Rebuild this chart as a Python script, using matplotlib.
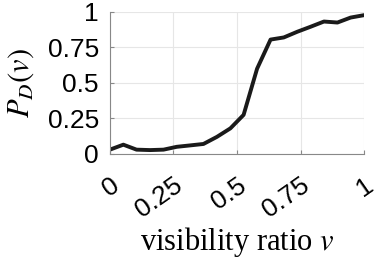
import matplotlib
matplotlib.use("Agg")
import matplotlib.pyplot as plt

# detection probability vs visibility ratio
vis_ratio = [0.0, 0.053, 0.105, 0.158, 0.211, 0.263, 0.316, 0.368, 0.421, 0.474,
             0.526, 0.579, 0.632, 0.684, 0.737, 0.789, 0.842, 0.895, 0.947, 1.0]
p_detect = [0.03, 0.065, 0.03, 0.027, 0.03, 0.05, 0.06, 0.07, 0.12, 0.18,
            0.275, 0.60, 0.805, 0.82, 0.86, 0.895, 0.932, 0.925, 0.96, 0.977]

xticks = [0, 0.25, 0.5, 0.75, 1]
xtick_labels = ["0", "0.25", "0.5", "0.75", "1"]
yticks = [0, 0.25, 0.5, 0.75, 1]
ytick_labels = ["0", "0.25", "0.5", "0.75", "1"]

plt.rcParams["mathtext.fontset"] = "stix"

fig = plt.figure(figsize=(3.75, 2.64), dpi=100)
ax = fig.add_axes([0.293, 0.417, 0.678, 0.538])

ax.plot(vis_ratio, p_detect, color="#1a1a1a", linewidth=2.8, solid_joinstyle="round")

ax.set_xlim(0, 1)
ax.set_ylim(0, 1)
ax.set_xticks(xticks)
ax.set_xticklabels(xtick_labels, rotation=35, ha="right", va="top", rotation_mode="anchor",
                   family="Liberation Sans", fontsize=19)
ax.set_yticks(yticks)
ax.set_yticklabels(ytick_labels, family="Liberation Sans", fontsize=19)

ax.grid(True, color="#e6e6e6", linewidth=0.8)
ax.set_axisbelow(True)
for side in ["top", "right"]:
    ax.spines[side].set_visible(False)
for side in ["left", "bottom"]:
    ax.spines[side].set_color("#888888")
    ax.spines[side].set_linewidth(0.8)
ax.tick_params(direction="in", length=3, color="#888888")
ax.tick_params(axis="y", pad=8)
ax.tick_params(axis="x", pad=14)

ax.set_ylabel(r"$P_D(v)$", fontsize=22, labelpad=8)
ax.set_xlabel(r"visibility ratio $v$", family="Liberation Serif", fontsize=22, labelpad=2)

fig.savefig("out.png", dpi=100)
